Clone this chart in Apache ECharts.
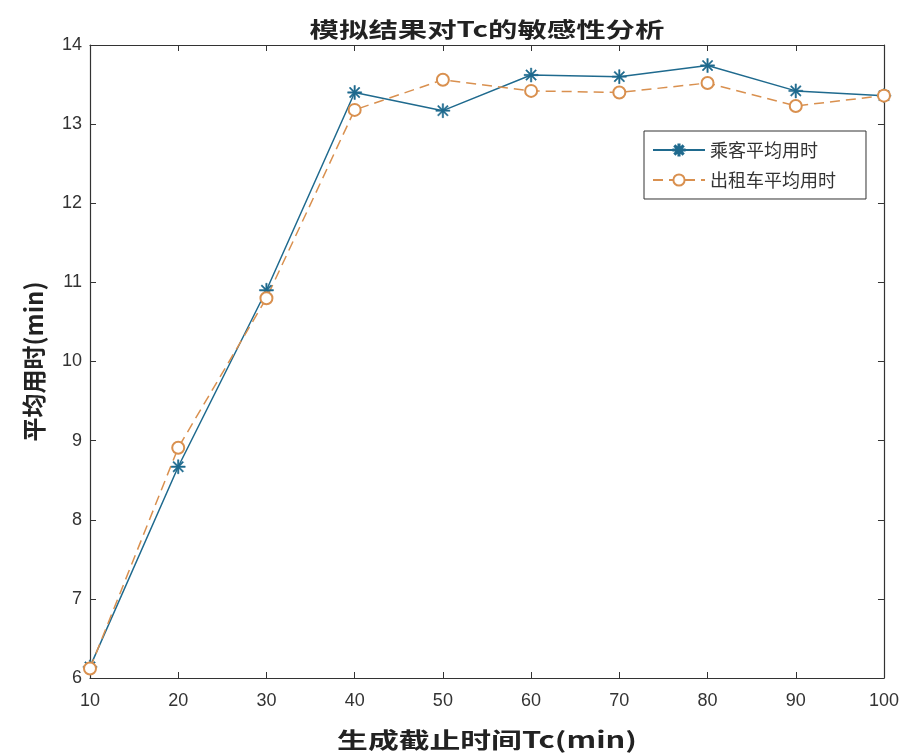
<!DOCTYPE html>
<html><head><meta charset="utf-8">
<script src="https://cdn.jsdelivr.net/npm/echarts@6/dist/echarts.min.js"></script>
<style>html,body{margin:0;padding:0;background:#fff}#c{width:902px;height:756px}</style>
</head><body><div id="c"></div>
<script>
var tcValues = [10, 20, 30, 40, 50, 60, 70, 80, 90, 100];
var passengerTime = [6.14, 8.67, 10.9, 13.4, 13.17, 13.62, 13.6, 13.74, 13.42, 13.36];
var taxiTime = [6.12, 8.91, 10.8, 13.18, 13.56, 13.42, 13.4, 13.52, 13.23, 13.36];
var seriesNames = ['乘客平均用时', '出租车平均用时'];
var titleText = '模拟结果对Tc的敏感性分析';
var xName = '生成截止时间Tc(min)';
var yName = '平均用时(min)';

var star = 'path://M-1,-10 L1,-10 L1,10 L-1,10 Z M-10,-1 L10,-1 L10,1 L-10,1 Z M-7.78,-6.36 L-6.36,-7.78 L7.78,6.36 L6.36,7.78 Z M6.36,-7.78 L7.78,-6.36 L-6.36,7.78 L-7.78,6.36 Z';
var blue = '#1f6a8e', orange = '#d9904f';
var font = '"Liberation Sans", Arial, sans-serif';
var cjk = '"Noto Sans CJK SC", sans-serif';

function pairs(ys){ return tcValues.map(function(x,i){return [x, ys[i]];}); }

var chart = echarts.init(document.getElementById('c'));
var axisCommon = {
  axisLine: {show: true, lineStyle: {color: '#333', width: 1.2}},
  axisTick: {show: true, inside: true, length: 6, lineStyle: {color: '#333'}},
  splitLine: {show: false}
};
chart.setOption({
  animation: false,
  backgroundColor: '#fff',
  graphic: [
    {type: 'text', x: 487, y: 29, scaleX: 1.4, silent: true,
      style: {text: titleText, textAlign: 'center', textVerticalAlign: 'middle', verticalAlign: 'middle',
        fontFamily: cjk, fontSize: 21, fontWeight: 'bold', fill: '#222'}},
    {type: 'text', x: 487, y: 740, scaleX: 1.4, silent: true,
      style: {text: xName, textAlign: 'center', textVerticalAlign: 'middle', verticalAlign: 'middle',
        fontFamily: cjk, fontSize: 22, fontWeight: 'bold', fill: '#222'}}
  ],
  grid: {left: 90, right: 18, top: 45, bottom: 78},
  legend: {
    orient: 'vertical', left: 644, top: 131, itemWidth: 52, itemHeight: 14, itemGap: 12,
    padding: [10, 30, 10, 8],
    borderColor: '#333', borderWidth: 1, backgroundColor: '#fff', borderRadius: 0,
    textStyle: {fontFamily: cjk, fontSize: 18, color: '#333'},
    data: seriesNames
  },
  xAxis: [
    Object.assign({type: 'value', min: 10, max: 100, interval: 10, position: 'bottom',
      axisLabel: {fontFamily: font, fontSize: 18, color: '#333', margin: 14}}, axisCommon),
    Object.assign({type: 'value', min: 10, max: 100, interval: 10, position: 'top',
      axisLabel: {show: false}}, axisCommon)
  ],
  yAxis: [
    Object.assign({type: 'value', min: 6, max: 14, interval: 1, position: 'left',
      name: yName, nameLocation: 'middle', nameGap: 44,
      nameTextStyle: {fontFamily: cjk, fontSize: 24, fontWeight: 'bold', color: '#222'},
      axisLabel: {fontFamily: font, fontSize: 18, color: '#333', margin: 8}}, axisCommon),
    Object.assign({type: 'value', min: 6, max: 14, interval: 1, position: 'right',
      axisLabel: {show: false}}, axisCommon)
  ],
  series: [
    {name: seriesNames[0], type: 'line', xAxisIndex: 0, yAxisIndex: 0, data: pairs(passengerTime),
      symbol: star, symbolSize: 14, symbolKeepAspect: true,
      lineStyle: {color: blue, width: 1.5},
      itemStyle: {color: blue, borderColor: blue, borderWidth: 0.5}},
    {name: seriesNames[1], type: 'line', xAxisIndex: 0, yAxisIndex: 0, data: pairs(taxiTime),
      symbol: 'emptyCircle', symbolSize: 12, showAllSymbol: true,
      lineStyle: {color: orange, width: 1.5, type: [10, 6]},
      itemStyle: {color: orange, borderColor: orange, borderWidth: 1.3}}
  ]
});
</script></body></html>
